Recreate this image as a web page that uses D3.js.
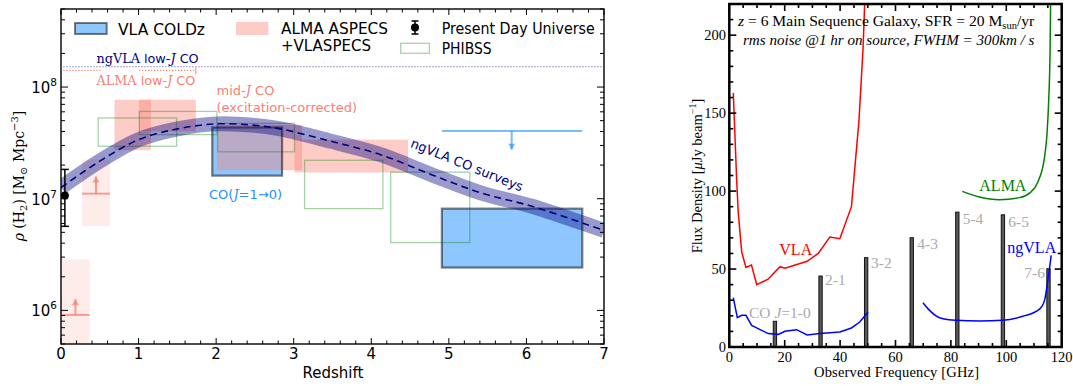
<!DOCTYPE html>
<html><head><meta charset="utf-8">
<script src="https://cdn.jsdelivr.net/npm/d3@7"></script>
<style>body{margin:0;background:#fff}svg{display:block}</style>
</head><body>
<svg id="c" width="1073" height="386"></svg>
<script>
// ---------------- left panel: cosmic molecular gas density ----------------
const bandZ   = [0, 0.5, 1.0, 1.5, 2.0, 2.5, 2.83, 3.48, 4.12, 4.77, 5.41, 6.06, 6.71, 7.0];
const bandRho = [1.26e7, 2.17e7, 3.38e7, 4.22e7, 4.68e7, 4.54e7, 4.22e7, 3.27e7, 2.48e7, 1.65e7, 1.13e7, 8.6e6, 6.1e6, 5.2e6];

const coldzZ   = [[1.95, 2.85], [4.91, 6.72]];
const coldzRho = [[1.61e7, 4.35e7], [2.42e6, 8.15e6]];

const aspecsZ   = [[0.69, 1.16], [1.006, 1.738], [2.008, 3.107], [3.011, 4.475]];
const aspecsRho = [[2.72e7, 7.69e7], [4.01e7, 7.69e7], [1.8e7, 4.6e7], [1.72e7, 3.38e7]];

const limZ      = [[0.003, 0.369], [0.271, 0.631]];
const limBoxRho = [[3e5, 2.87e6], [5.7e6, 2.24e7]];
const limRho    = [9.1e5, 1.11e7];
const limTipRho = [1.26e6, 1.58e7];

const phibssZ   = [[0.48, 1.49], [1.01, 2.01], [2.02, 3.01], [3.14, 4.15], [4.25, 5.27]];
const phibssRho = [[2.95e7, 5.29e7], [3.75e7, 6.05e7], [2.63e7, 4.73e7], [8.15e6, 2.21e7], [4.05e6, 1.73e7]];

const upperZ = [4.91, 6.72], upperRho = 4.05e7, upperArrowZ = 5.81, upperTipRho = 2.75e7;

const todayZ = 0.05, todayRho = 1.07e7, todayErr = [5.66e6, 1.83e7];

const ngvlaLowJ = 1.52e8, ngvlaLowJZ = [0.03, 7.0];
const almaLowJ = 1.41e8, almaLowJZ = [[0.03, 0.53], [1.006, 1.738]];

const zTicks = [0, 1, 2, 3, 4, 5, 6, 7];
const rhoTicks = [1e6, 1e7, 1e8];

// ---------------- right panel: line sensitivity at z = 6 ----------------
const coLines = ["1-0", "2-1", "3-2", "4-3", "5-4", "6-5", "7-6"];
const coFreq  = [16.47, 32.94, 49.40, 65.86, 82.32, 98.78, 115.23];
const coFlux  = [16.5, 45.5, 57.3, 70.1, 86.5, 84.8, 50.2];

const vlaFreq = [1.44, 2.66, 3.24, 4.47, 6.0, 8.0, 9.9, 14.0, 18.3, 20.1, 28.1, 32.1, 36.3, 39.9, 44.1, 46.8, 48.3, 48.9];
const vlaFlux = [163, 107, 86, 61, 51, 52.5, 40, 43.5, 51.5, 50.6, 55, 60, 70.5, 69.5, 90, 145, 192, 222];

const ngvlaFreqA = [1.44, 2.9, 4.47, 6.0, 8.07, 14.05, 17.7, 20.07, 24.3, 28.1, 32.7, 39.9, 44.1, 47.1, 50.1];
const ngvlaFluxA = [31.7, 18.8, 20.3, 20.3, 13.9, 8.6, 8.1, 10.1, 11.1, 7.7, 8.6, 9.6, 12.2, 16.0, 22.4];
const ngvlaFreqB = [69.9, 72.3, 75.9, 81.9, 90.3, 98.7, 105.9, 112.0, 113.8, 115.0, 116.2];
const ngvlaFluxB = [28.4, 23.5, 18.8, 17.1, 16.7, 17.1, 19.7, 24.3, 29.9, 42.7, 58.8];

const almaFreq = [84.1, 90.3, 97.5, 104.8, 108.4, 111.4, 113.8, 114.7, 115.3, 115.8, 116.0];
const almaFlux = [99.8, 96.2, 94.5, 95.8, 98.7, 105.8, 121.8, 136.8, 158, 190, 222];

const freqTicks = [0, 20, 40, 60, 80, 100, 120];
const fluxTicks = [0, 50, 100, 150, 200];

// ---------------- drawing ----------------
const svg = d3.select("#c");
const SANS = "DejaVu Sans, sans-serif";
const SERIF = "Liberation Serif, DejaVu Serif, serif";
const MATH = "DejaVu Serif, serif";

const SALMON = "#fa8072";
const xL = d3.scaleLinear().domain([0, 7]).range([61, 604]);
const yL = d3.scaleLog().domain([5e5, 5e8]).range([344, 9]);

const L = svg.append("g");
L.append("clipPath").attr("id", "clipL").append("rect")
  .attr("x", 61).attr("y", 9).attr("width", 543).attr("height", 335);
const Lp = L.append("g").attr("clip-path", "url(#clipL)");

function rect(g, z, r) {
  return g.append("rect")
    .attr("x", xL(z[0])).attr("width", xL(z[1]) - xL(z[0]))
    .attr("y", yL(r[1])).attr("height", yL(r[0]) - yL(r[1]));
}

// lower-limit boxes at low redshift
limZ.forEach((z, i) => {
  rect(Lp, z, limBoxRho[i]).attr("fill", SALMON).attr("fill-opacity", 0.15);
});
// COLDz fills (outlines drawn later)
coldzZ.forEach((z, i) => {
  rect(Lp, z, coldzRho[i]).attr("fill", "dodgerblue").attr("fill-opacity", 0.5);
});
// ASPECS / VLASPECS boxes
aspecsZ.forEach((z, i) => {
  rect(Lp, z, aspecsRho[i]).attr("fill", SALMON).attr("fill-opacity", 0.4);
});
// PHIBSS
phibssZ.forEach((z, i) => {
  rect(Lp, z, phibssRho[i]).attr("fill", "none").attr("stroke", "green")
    .attr("stroke-opacity", 0.35).attr("stroke-width", 1.3);
});
// COLDz outlines
coldzZ.forEach((z, i) => {
  rect(Lp, z, coldzRho[i]).attr("fill", "none")
    .attr("stroke", "#000").attr("stroke-opacity", 0.5).attr("stroke-width", 2.2);
});

// arrow helper
function arrow(g, x, y0, y1, color, op) {
  g.append("line").attr("x1", x).attr("x2", x).attr("y1", y0).attr("y2", y1)
    .attr("stroke", color).attr("stroke-opacity", op).attr("stroke-width", 2);
  const d = y1 < y0 ? 1 : -1;
  g.append("path").attr("d", `M${x - 3.5},${y1 + d * 6}L${x},${y1}L${x + 3.5},${y1 + d * 6}Z`)
    .attr("fill", color).attr("fill-opacity", op);
}

// lower limits
limZ.forEach((z, i) => {
  Lp.append("line").attr("x1", xL(z[0])).attr("x2", xL(z[1]))
    .attr("y1", yL(limRho[i])).attr("y2", yL(limRho[i]))
    .attr("stroke", SALMON).attr("stroke-opacity", 0.75).attr("stroke-width", 2);
  arrow(Lp, xL((z[0] + z[1]) / 2), yL(limRho[i]), yL(limTipRho[i]), SALMON, 0.75);
});

// COLDz upper limit
Lp.append("line").attr("x1", xL(upperZ[0])).attr("x2", xL(upperZ[1]))
  .attr("y1", yL(upperRho)).attr("y2", yL(upperRho))
  .attr("stroke", "dodgerblue").attr("stroke-opacity", 0.6).attr("stroke-width", 2);
arrow(Lp, xL(upperArrowZ), yL(upperRho), yL(upperTipRho), "dodgerblue", 0.6);

// ngVLA band and its central curve
const bandLine = d3.line().x((d, i) => xL(bandZ[i])).y(d => yL(d)).curve(d3.curveCatmullRom);
Lp.append("path").attr("d", bandLine(bandRho)).attr("fill", "none")
  .attr("stroke", "navy").attr("stroke-opacity", 0.4).attr("stroke-width", 15);
Lp.append("path").attr("d", bandLine(bandRho)).attr("fill", "none")
  .attr("stroke", "navy").attr("stroke-width", 1.6).attr("stroke-dasharray", "7,4.5");

// low-J dotted limits
Lp.append("line").attr("x1", xL(ngvlaLowJZ[0])).attr("x2", xL(ngvlaLowJZ[1]))
  .attr("y1", yL(ngvlaLowJ)).attr("y2", yL(ngvlaLowJ))
  .attr("stroke", "#3c3ca8").attr("stroke-opacity", 0.8).attr("stroke-width", 1.2).attr("stroke-dasharray", "1.2,1.8");
almaLowJZ.forEach(z => {
  Lp.append("line").attr("x1", xL(z[0])).attr("x2", xL(z[1]))
    .attr("y1", yL(almaLowJ)).attr("y2", yL(almaLowJ))
    .attr("stroke", SALMON).attr("stroke-width", 1.2).attr("stroke-dasharray", "1.2,1.8");
});
Lp.append("line").attr("x1", xL(almaLowJZ[1][1])).attr("x2", xL(almaLowJZ[1][1]))
  .attr("y1", yL(almaLowJ) - 3).attr("y2", yL(almaLowJ) + 4)
  .attr("stroke", SALMON).attr("stroke-width", 1);

// present-day point
const tx = xL(todayZ);
L.append("line").attr("x1", tx).attr("x2", tx).attr("y1", yL(todayErr[0])).attr("y2", yL(todayErr[1]))
  .attr("stroke", "#000").attr("stroke-width", 1.5);
todayErr.forEach(v => L.append("line").attr("x1", tx - 4).attr("x2", tx + 4)
  .attr("y1", yL(v)).attr("y2", yL(v)).attr("stroke", "#000").attr("stroke-width", 1.5));
L.append("circle").attr("cx", tx).attr("cy", yL(todayRho)).attr("r", 4).attr("fill", "#000");

// annotations
function mixed(g, x, y, parts, color, size) {
  const t = g.append("text").attr("x", x).attr("y", y).attr("fill", color).attr("font-size", size);
  parts.forEach(p => {
    const s = t.append("tspan").text(p[0]).attr("font-family", p[1]);
    if (p[2]) s.attr("font-style", "italic");
  });
  return t;
}
mixed(L, 96.5, 63, [["ngVLA", MATH], [" low-", SANS], ["J", MATH, 1], [" CO", SANS]], "navy", 12.8);
mixed(L, 96.5, 85, [["ALMA", MATH], [" low-", SANS], ["J", MATH, 1], [" CO", SANS]], SALMON, 12.8);
mixed(L, 216.5, 95, [["mid-", SANS], ["J", MATH, 1], [" CO", SANS]], SALMON, 13);
L.append("text").attr("x", 216.5).attr("y", 112).attr("fill", SALMON)
  .attr("font-family", SANS).attr("font-size", 13).text("(excitation-corrected)");
mixed(L, 209, 199, [["CO(", SANS], ["J", MATH, 1], ["=1\u21920)", SANS]], "dodgerblue", 13);
L.append("text").attr("transform", "translate(467,165) rotate(22)")
  .attr("text-anchor", "middle").attr("dominant-baseline", "central")
  .attr("fill", "navy").attr("font-family", SANS).attr("font-size", 13).text("ngVLA CO surveys");

// legend
L.append("rect").attr("x", 75).attr("y", 23).attr("width", 31.7).attr("height", 11)
  .attr("fill", "dodgerblue").attr("fill-opacity", 0.5)
  .attr("stroke", "#000").attr("stroke-opacity", 0.5).attr("stroke-width", 2);
L.append("rect").attr("x", 236).attr("y", 22).attr("width", 32.3).attr("height", 13)
  .attr("fill", SALMON).attr("fill-opacity", 0.4);
L.append("rect").attr("x", 400.7).attr("y", 43.3).attr("width", 28.6).attr("height", 10)
  .attr("fill", "none").attr("stroke", "green").attr("stroke-opacity", 0.35).attr("stroke-width", 1.3);
L.append("line").attr("x1", 415).attr("x2", 415).attr("y1", 21).attr("y2", 34).attr("stroke", "#000").attr("stroke-width", 1.5);
[21, 34].forEach(y => L.append("line").attr("x1", 411.5).attr("x2", 418.5).attr("y1", y).attr("y2", y).attr("stroke", "#000").attr("stroke-width", 1.5));
L.append("circle").attr("cx", 415).attr("cy", 27.5).attr("r", 4).attr("fill", "#000");
const legTxt = [["VLA COLDz", 118, 34.5, 87], ["ALMA ASPECS", 281, 34, 107], ["+VLASPECS", 281, 50.5, 90],
                ["Present Day Universe", 441.7, 34, 153], ["PHIBSS", 441.7, 54, 50]];
legTxt.forEach(d => L.append("text").attr("x", d[1]).attr("y", d[2]).attr("font-family", SANS)
  .attr("font-size", 15).attr("textLength", d[3]).attr("lengthAdjust", "spacingAndGlyphs")
  .attr("fill", "#000").text(d[0]));

// axes frame and ticks
L.append("rect").attr("x", 61).attr("y", 9).attr("width", 543).attr("height", 335)
  .attr("fill", "none").attr("stroke", "#000").attr("stroke-width", 1.4);
const tickL = L.append("g").attr("stroke", "#000").attr("stroke-width", 1);
d3.range(0, 7.001, 0.2).forEach(v => {
  const major = Math.abs(v - Math.round(v)) < 1e-6;
  const len = major ? 6 : 3.5, x = xL(v);
  tickL.append("line").attr("x1", x).attr("x2", x).attr("y1", 344).attr("y2", 344 - len);
  tickL.append("line").attr("x1", x).attr("x2", x).attr("y1", 9).attr("y2", 9 + len);
});
yL.ticks().filter(v => v >= 5e5 && v <= 5e8).forEach(v => {
  const major = rhoTicks.includes(v);
  const len = major ? 7 : 4, y = yL(v);
  tickL.append("line").attr("x1", 61).attr("x2", 61 + len).attr("y1", y).attr("y2", y);
  tickL.append("line").attr("x1", 604).attr("x2", 604 - len).attr("y1", y).attr("y2", y);
});
zTicks.forEach(v => L.append("text").attr("x", xL(v)).attr("y", 359).attr("text-anchor", "middle")
  .attr("font-family", SANS).attr("font-size", 15).text(v));
rhoTicks.forEach(v => {
  const t = L.append("text").attr("x", 57).attr("y", yL(v) + 6).attr("text-anchor", "end")
    .attr("font-family", SANS).attr("font-size", 15);
  t.append("tspan").text("10");
  t.append("tspan").attr("dy", -7).attr("font-size", 10.5).text(Math.round(Math.log10(v)));
});
L.append("text").attr("x", 333).attr("y", 378).attr("text-anchor", "middle")
  .attr("font-family", SANS).attr("font-size", 15).text("Redshift");
{
  const t = L.append("text").attr("transform", "translate(24,176) rotate(-90)")
    .attr("text-anchor", "middle").attr("font-family", MATH).attr("font-size", 14);
  t.append("tspan").attr("font-style", "italic").text("\u03c1");
  t.append("tspan").text(" (H");
  t.append("tspan").attr("dy", 3).attr("font-size", 10).text("2");
  t.append("tspan").attr("dy", -3).text(") [M");
  t.append("tspan").attr("dy", 3).attr("font-size", 10).text("\u2299");
  t.append("tspan").attr("dy", -3).text(" Mpc");
  t.append("tspan").attr("dy", -6).attr("font-size", 10).text("\u22123");
  t.append("tspan").attr("dy", 6).text("]");
}

// ---------------- right panel ----------------
const xR = d3.scaleLinear().domain([0, 120]).range([729.3, 1061.7]);
const yR = d3.scaleLinear().domain([0, 220]).range([347, 4]);
const R = svg.append("g");
R.append("clipPath").attr("id", "clipR").append("rect")
  .attr("x", 729.3).attr("y", 4).attr("width", 332.4).attr("height", 343);
const Rp = R.append("g").attr("clip-path", "url(#clipR)");

// CO ladder bars
coFreq.forEach((f, i) => {
  Rp.append("rect").attr("x", xR(f - 0.6)).attr("width", xR(1.2) - xR(0))
    .attr("y", yR(coFlux[i])).attr("height", yR(0) - yR(coFlux[i]))
    .attr("fill", "#5a5a5a").attr("stroke", "#111").attr("stroke-width", 1);
});

const curve = (fs, vs, c) => d3.line().x((d, i) => xR(fs[i])).y(d => yR(d)).curve(c)(vs);
Rp.append("path").attr("d", curve(vlaFreq, vlaFlux, d3.curveLinear))
  .attr("fill", "none").attr("stroke", "red").attr("stroke-width", 1.5);
Rp.append("path").attr("d", curve(ngvlaFreqA, ngvlaFluxA, d3.curveLinear))
  .attr("fill", "none").attr("stroke", "blue").attr("stroke-width", 1.5);
Rp.append("path").attr("d", curve(ngvlaFreqB, ngvlaFluxB, d3.curveMonotoneX))
  .attr("fill", "none").attr("stroke", "blue").attr("stroke-width", 1.5);
Rp.append("path").attr("d", curve(almaFreq, almaFlux, d3.curveMonotoneX))
  .attr("fill", "none").attr("stroke", "green").attr("stroke-width", 1.5);

// labels
const GREY = "#aaaaaa";
{
  const t = R.append("text").attr("x", 749).attr("y", 317.5).attr("fill", GREY)
    .attr("font-family", SERIF).attr("font-size", 15.5);
  t.append("tspan").text("CO ");
  t.append("tspan").attr("font-style", "italic").text("J");
  t.append("tspan").text("=" + coLines[0]);
}
const coLabPos = [null, [825, 285], [871, 268], [917.3, 248.5], [962.7, 223.5], [1008.3, 227], [1045, 278]];
coLines.forEach((s, i) => {
  if (!coLabPos[i]) return;
  R.append("text").attr("x", coLabPos[i][0]).attr("y", coLabPos[i][1]).attr("fill", GREY)
    .attr("text-anchor", i === 6 ? "end" : "start")
    .attr("font-family", SERIF).attr("font-size", 15.5).text(s);
});
R.append("text").attr("x", 779.3).attr("y", 254.5).attr("fill", "red").attr("font-family", SERIF)
  .attr("font-size", 16).text("VLA");
R.append("text").attr("x", 1007.3).attr("y", 253).attr("fill", "blue").attr("font-family", SERIF)
  .attr("font-size", 16).text("ngVLA");
R.append("text").attr("x", 979.3).attr("y", 191).attr("fill", "green").attr("font-family", SERIF)
  .attr("font-size", 16).text("ALMA");
{
  const t = R.append("text").attr("x", 738).attr("y", 25.5).attr("font-family", SERIF).attr("font-size", 15.6);
  t.append("tspan").attr("font-style", "italic").text("z");
  t.append("tspan").text(" = 6 Main Sequence Galaxy, SFR = 20 M");
  t.append("tspan").attr("dy", 3).attr("font-size", 10.5).text("sun");
  t.append("tspan").attr("dy", -3).text("/yr");
}
R.append("text").attr("x", 743).attr("y", 44.5).attr("font-family", SERIF).attr("font-size", 15.1)
  .attr("font-style", "italic").text("rms noise @1 hr on source, FWHM = 300km / s");

// frame and ticks
R.append("rect").attr("x", 729.3).attr("y", 4).attr("width", 332.4).attr("height", 343)
  .attr("fill", "none").attr("stroke", "#000").attr("stroke-width", 2.5);
const tickR = R.append("g").attr("stroke", "#000").attr("stroke-width", 1.6);
d3.range(0, 120.001, 5).forEach(v => {
  const len = v % 20 === 0 ? 7 : 4, x = xR(v);
  tickR.append("line").attr("x1", x).attr("x2", x).attr("y1", 347).attr("y2", 347 - len);
  tickR.append("line").attr("x1", x).attr("x2", x).attr("y1", 4).attr("y2", 4 + len);
});
d3.range(0, 220.001, 10).forEach(v => {
  const len = v % 50 === 0 ? 7 : 4, y = yR(v);
  tickR.append("line").attr("x1", 729.3).attr("x2", 729.3 + len).attr("y1", y).attr("y2", y);
  tickR.append("line").attr("x1", 1061.7).attr("x2", 1061.7 - len).attr("y1", y).attr("y2", y);
});
freqTicks.forEach(v => R.append("text").attr("x", xR(v)).attr("y", 361.5).attr("text-anchor", "middle")
  .attr("font-family", SERIF).attr("font-size", 14.5).text(v));
fluxTicks.forEach(v => R.append("text").attr("x", 726).attr("y", yR(v) + 5).attr("text-anchor", "end")
  .attr("font-family", SERIF).attr("font-size", 14.5).text(v));
R.append("text").attr("x", 896.5).attr("y", 376.5).attr("text-anchor", "middle")
  .attr("font-family", SERIF).attr("font-size", 14.5).attr("textLength", 165).text("Observed Frequency [GHz]");
{
  const t = R.append("text").attr("transform", "translate(702,176) rotate(-90)")
    .attr("text-anchor", "middle").attr("font-family", SERIF).attr("font-size", 14.5);
  t.append("tspan").text("Flux Density [");
  t.append("tspan").attr("font-style", "italic").text("\u03bc");
  t.append("tspan").text("Jy beam");
  t.append("tspan").attr("dy", -6).attr("font-size", 10).text("\u22121");
  t.append("tspan").attr("dy", 6).text("]");
}
</script>
</body></html>
